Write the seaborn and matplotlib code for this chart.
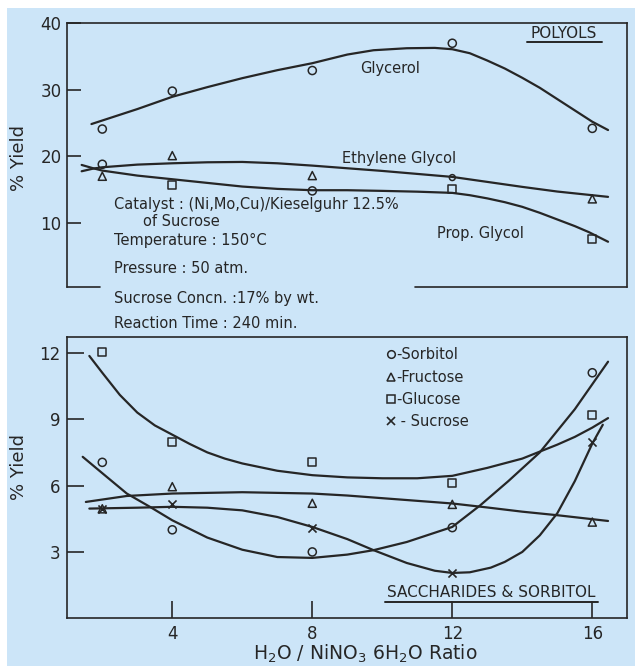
import numpy as np
import pandas as pd
import matplotlib
matplotlib.use("Agg")
import matplotlib.pyplot as plt
import seaborn as sns
from matplotlib.patches import Rectangle
from matplotlib.lines import Line2D

# ---------------- data ----------------
ratio = [2, 4, 8, 12, 16]

# POLYOLS (top panel) - measured points
glycerol_pts = [24.1, 29.8, 32.9, 37.0, 24.2]
ethylene_pts = [17.0, 20.1, 17.1, 16.8, 13.6]
prop_pts = [18.8, 15.7, 14.8, 15.1, 7.55]
ethylene_markers = ['^', '^', '^', 'o', '^']
prop_markers = ['o', 's', 'o', 's', 's']

# POLYOLS - hand drawn trend curves
glycerol_cx = [1.69, 3, 4, 5, 6, 7, 8, 9, 9.75, 10.7, 11.5, 12, 12.5, 13, 13.5, 14, 14.5, 15, 15.5, 16, 16.45]
glycerol_cy = [24.85, 27.1, 28.95, 30.4, 31.75, 32.95, 34.0, 35.3, 35.95, 36.25, 36.3, 36.1, 35.5, 34.4, 33.2, 31.8, 30.3, 28.6, 26.9, 25.2, 23.95]
ethylene_cx = [1.41, 1.74, 2, 3, 4, 5, 6, 7, 8, 9, 10, 11, 12, 13, 14, 15, 16.45]
ethylene_cy = [17.75, 18.15, 18.35, 18.75, 18.95, 19.1, 19.15, 18.95, 18.6, 18.2, 17.8, 17.35, 16.9, 16.15, 15.4, 14.7, 13.9]
prop_cx = [1.41, 1.74, 2, 3, 4, 5, 6, 7, 8, 9, 10, 11, 12, 12.5, 13, 13.5, 14, 14.5, 15, 15.5, 15.9, 16.45]
prop_cy = [18.7, 18.2, 17.85, 17.1, 16.55, 16.0, 15.45, 15.1, 14.9, 14.9, 14.8, 14.68, 14.5, 14.15, 13.67, 13.1, 12.4, 11.5, 10.5, 9.5, 8.6, 7.15]

# SACCHARIDES & SORBITOL (bottom panel) - measured points
sorbitol_pts = [7.05, 4.0, 3.0, 4.1, 11.1]
fructose_pts = [4.95, 5.95, 5.2, 5.15, 4.35]
glucose_pts = [12.05, 7.95, 7.05, 6.1, 9.2]
sucrose_pts = [4.95, 5.15, 4.1, 2.05, 7.95]

# SACCHARIDES & SORBITOL - trend curves
sorbitol_cx = [1.44, 2, 2.7, 3.36, 4, 5, 6, 7, 8, 9, 9.75, 10.7, 12, 12.8, 13.6, 14.5, 15.5, 16.45]
sorbitol_cy = [7.3, 6.56, 5.64, 5.04, 4.43, 3.65, 3.1, 2.77, 2.73, 2.88, 3.08, 3.45, 4.13, 5.11, 6.2, 7.5, 9.45, 11.6]
fructose_cx = [1.53, 2.7, 4, 6, 8, 9, 10, 11, 12, 13, 14, 15, 16.45]
fructose_cy = [5.26, 5.53, 5.64, 5.7, 5.64, 5.55, 5.43, 5.31, 5.19, 5.01, 4.82, 4.66, 4.4]
glucose_cx = [1.63, 2, 2.5, 3, 3.5, 4, 4.5, 5, 5.5, 6, 7, 8, 9, 10, 11, 12, 13, 14, 15, 15.5, 16, 16.45]
glucose_cy = [11.86, 11.1, 10.1, 9.3, 8.72, 8.3, 7.88, 7.5, 7.22, 7.0, 6.67, 6.47, 6.37, 6.33, 6.33, 6.44, 6.8, 7.22, 7.85, 8.2, 8.62, 9.05]
sucrose_cx = [1.63, 3, 4, 5, 6, 7, 8, 9, 9.75, 10.7, 11.5, 12, 12.5, 13.1, 13.5, 14, 14.5, 15, 15.5, 16, 16.3]
sucrose_cy = [4.96, 5.0, 5.04, 5.0, 4.88, 4.58, 4.13, 3.58, 3.08, 2.5, 2.15, 2.05, 2.08, 2.29, 2.55, 3.0, 3.75, 4.75, 6.2, 7.9, 8.75]

top_yticks = [10, 20, 30, 40]
bot_yticks = [3, 6, 9, 12]
bot_xticks = [4, 8, 12, 16]

legend_labels = ['-Sorbitol', '-Fructose', '-Glucose', ' - Sucrose']
info_lines = ["Catalyst : (Ni,Mo,Cu)/Kieselguhr 12.5%", "of Sucrose",
              "Temperature : 150°C", "Pressure : 50 atm.",
              "Sucrose Concn. :17% by wt.", "Reaction Time : 240 min."]

# ---------------- style ----------------
sns.set_theme(style="ticks")
BG = '#cce5f8'
INK = '#262626'
plt.rcParams['font.family'] = ['DejaVu Sans']
plt.rcParams['mathtext.default'] = 'regular'
plt.rcParams['axes.edgecolor'] = INK
plt.rcParams['axes.linewidth'] = 1.2
plt.rcParams['text.color'] = INK

W, H = 635, 666
fig = plt.figure(figsize=(W / 100, H / 100), dpi=100, facecolor='white')
fig.patches.append(Rectangle((7 / W, 0), 1, 1 - 8 / H, transform=fig.transFigure,
                             facecolor=BG, edgecolor='none', zorder=-10))

L, R = 67.3, 627.3
ax1 = fig.add_axes([L / W, 1 - 287.3 / H, (R - L) / W, (287.3 - 23.3) / H])
ax2 = fig.add_axes([L / W, 1 - 618.3 / H, (R - L) / W, (618.3 - 336.7) / H])
for ax in (ax1, ax2):
    ax.set_facecolor('none')

LW = 1.6
MS = 34


def curve(ax, xs, ys):
    df = pd.DataFrame({'x': xs, 'y': ys})
    sns.lineplot(data=df, x='x', y='y', ax=ax, color=INK, lw=LW, sort=False,
                 estimator=None, legend=False, zorder=2)


def points(ax, xs, ys, marker, size=MS):
    df = pd.DataFrame({'x': xs, 'y': ys})
    if marker == 'x':
        sns.scatterplot(data=df, x='x', y='y', ax=ax, marker='x', color=INK,
                        s=size, linewidth=1.2, legend=False, zorder=3)
    else:
        sns.scatterplot(data=df, x='x', y='y', ax=ax, marker=marker, s=size,
                        facecolor='none', edgecolor=INK, linewidth=1.1,
                        legend=False, zorder=3)


# ---------------- top panel ----------------
curve(ax1, glycerol_cx, glycerol_cy)
curve(ax1, ethylene_cx, ethylene_cy)
curve(ax1, prop_cx, prop_cy)
points(ax1, ratio, glycerol_pts, 'o')
for xv, yv, m in zip(ratio, ethylene_pts, ethylene_markers):
    points(ax1, [xv], [yv], m, MS if m == '^' else 18)
for xv, yv, m in zip(ratio, prop_pts, prop_markers):
    points(ax1, [xv], [yv], m)

ax1.set_xlim(1, 17)
ax1.set_ylim(0.3, 40)
ax1.set_xticks([])
ax1.set_yticks(top_yticks)
ax1.tick_params(axis='y', direction='in', length=10, width=1.2, pad=4,
                labelsize=12, colors=INK)
ax1.set_xlabel('')
ax1.set_ylabel('% Yield', fontsize=13, color=INK)
ax1.yaxis.set_label_coords(-0.07, 0.49)
ax1.spines['bottom'].set_visible(False)
ax1.plot([0, 0.058], [0, 0], transform=ax1.transAxes, color=INK, lw=1.2, clip_on=False)
ax1.plot([0.621, 1], [0, 0], transform=ax1.transAxes, color=INK, lw=1.2, clip_on=False)

ax1.text(0.523, 0.830, 'Glycerol', transform=ax1.transAxes, fontsize=10.5, va='center', ha='left')
ax1.text(0.490, 0.489, 'Ethylene Glycol', transform=ax1.transAxes, fontsize=10.5, va='center', ha='left')
ax1.text(0.660, 0.2045, 'Prop. Glycol', transform=ax1.transAxes, fontsize=10.5, va='center', ha='left')
ax1.text(0.887, 0.962, 'POLYOLS', transform=ax1.transAxes, fontsize=11, va='center', ha='center')
ax1.plot([0.820, 0.954], [0.930, 0.930], transform=ax1.transAxes, color=INK, lw=1.4)

info_pos = [(114.3, 205), (143.3, 221.7), (114.3, 240), (114.3, 268.3),
            (114.3, 298.3), (114.3, 323.3)]
for txt, (px, py) in zip(info_lines, info_pos):
    fig.text(px / W, 1 - py / H, txt, fontsize=10.5, ha='left', va='center', color=INK)

# ---------------- bottom panel ----------------
curve(ax2, glucose_cx, glucose_cy)
curve(ax2, fructose_cx, fructose_cy)
curve(ax2, sucrose_cx, sucrose_cy)
curve(ax2, sorbitol_cx, sorbitol_cy)
points(ax2, ratio, sorbitol_pts, 'o')
points(ax2, ratio, fructose_pts, '^')
points(ax2, ratio, glucose_pts, 's')
points(ax2, ratio, sucrose_pts, 'x')

ax2.set_xlim(1, 17)
ax2.set_ylim(0, 12.73)
ax2.set_xticks(bot_xticks)
ax2.set_yticks(bot_yticks)
ax2.tick_params(axis='both', direction='in', length=12, width=1.2, pad=5,
                labelsize=12, colors=INK)
ax2.set_ylabel('% Yield', fontsize=13, color=INK)
ax2.yaxis.set_label_coords(-0.07, 0.537)
ax2.set_xlabel(r'H$_2$O / NiNO$_3$ 6H$_2$O Ratio', fontsize=13.5, color=INK)
ax2.xaxis.set_label_coords(0.533, -0.085)

ax2.text(0.7575, 0.090, 'SACCHARIDES & SORBITOL', transform=ax2.transAxes,
         fontsize=11, va='center', ha='center')
ax2.plot([0.567, 0.947], [0.058, 0.058], transform=ax2.transAxes, color=INK, lw=1.4)

handles = [Line2D([], [], ls='none', marker=m, mfc='none', mec=INK, mew=1.1, ms=5.5)
           for m in ['o', '^', 's']]
handles.append(Line2D([], [], ls='none', marker='x', color=INK, mew=1.2, ms=5.5))
leg = ax2.legend(handles, legend_labels, loc='upper left', bbox_to_anchor=(0.567, 0.962),
                 frameon=False, fontsize=10.5, handlelength=0.8, handletextpad=0.0,
                 labelspacing=0.5, borderpad=0, borderaxespad=0)
for t in leg.get_texts():
    t.set_color(INK)

fig.savefig('out.png', dpi=100, facecolor=fig.get_facecolor())
